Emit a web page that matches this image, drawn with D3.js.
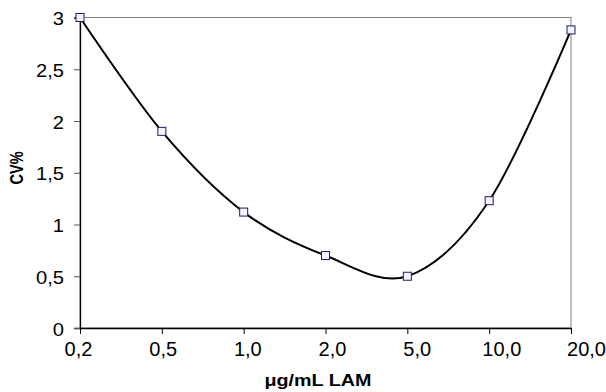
<!DOCTYPE html>
<html>
<head>
<meta charset="utf-8">
<script src="https://cdn.jsdelivr.net/npm/d3@7"></script>
<style>
  body { margin: 0; background: #fff; }
  svg { display: block; font-family: "Liberation Sans", Arial, sans-serif; }
</style>
</head>
<body>
<div id="chart"></div>
<script>
const categories = ['0,2', '0,5', '1,0', '2,0', '5,0', '10,0', '20,0'];
const cvValues = [3.0, 1.9, 1.12, 0.70, 0.50, 1.23, 2.88];
const yTicks = [0, 0.5, 1, 1.5, 2, 2.5, 3];
const xTitle = 'μg/mL LAM';
const yTitle = 'CV%';

const width = 606, height = 392;
const margin = { top: 17.5, right: 35, bottom: 64, left: 80 };

const svg = d3.select('#chart').append('svg')
  .attr('width', width)
  .attr('height', height);

const x = d3.scalePoint()
  .domain(categories)
  .range([margin.left, width - margin.right])
  .padding(0);

// tick labels sit slightly wider apart than the ticks in the original
const xLabel = d3.scalePoint()
  .domain(categories)
  .range([78, 586])
  .padding(0);

const y = d3.scaleLinear()
  .domain([0, 3])
  .range([height - margin.bottom, margin.top]);

// plot frame (grey top / right)
svg.append('rect')
  .attr('x', margin.left)
  .attr('y', margin.top)
  .attr('width', width - margin.right - margin.left)
  .attr('height', height - margin.bottom - margin.top)
  .attr('fill', 'none')
  .attr('stroke', '#808080')
  .attr('stroke-width', 1);

// y axis
const stretch = 1.15;
const yAxis = svg.append('g')
  .attr('transform', 'translate(' + margin.left + ',0)')
  .call(d3.axisLeft(y).tickValues(yTicks).tickSize(6).tickPadding(10)
    .tickFormat(function (d) { return String(d).replace('.', ','); }));
yAxis.select('.domain').attr('stroke', '#000').attr('stroke-width', 1.3);
yAxis.selectAll('.tick line').attr('stroke', '#555');
yAxis.selectAll('.tick text')
  .attr('font-size', 17.5)
  .attr('fill', '#000')
  .attr('x', -16 / stretch)
  .attr('dy', '0.4em')
  .attr('transform', 'scale(' + stretch + ',1)');

// x axis
const xAxis = svg.append('g')
  .attr('transform', 'translate(0,' + (height - margin.bottom) + ')')
  .call(d3.axisBottom(x).tickSizeInner(6).tickSizeOuter(0).tickPadding(6));
xAxis.select('.domain').attr('stroke', '#000').attr('stroke-width', 1.3);
xAxis.selectAll('.tick line').attr('stroke', '#000');
xAxis.selectAll('.tick text')
  .attr('font-size', 20)
  .attr('fill', '#000')
  .attr('x', function (d) { return xLabel(d) - x(d); })
  .attr('dy', '0.78em');

// smoothed line
const line = d3.line()
  .x(function (d, i) { return x(categories[i]); })
  .y(function (d) { return y(d); })
  .curve(d3.curveCatmullRom.alpha(0));

svg.append('path')
  .datum(cvValues)
  .attr('d', line)
  .attr('fill', 'none')
  .attr('stroke', '#000')
  .attr('stroke-width', 2);

// square markers
const s = 8;
svg.selectAll('.marker')
  .data(cvValues)
  .enter().append('rect')
  .attr('class', 'marker')
  .attr('x', function (d, i) { return x(categories[i]) - s / 2; })
  .attr('y', function (d) { return y(d) - s / 2; })
  .attr('width', s)
  .attr('height', s)
  .attr('fill', '#f4f4ff')
  .attr('stroke', '#1c1c6c')
  .attr('stroke-width', 1);

// axis titles
svg.append('text')
  .attr('x', 318)
  .attr('y', 386)
  .attr('text-anchor', 'middle')
  .attr('font-size', 16.5)
  .attr('font-weight', 'bold')
  .attr('textLength', 107)
  .attr('lengthAdjust', 'spacingAndGlyphs')
  .text(xTitle);

svg.append('text')
  .attr('transform', 'translate(23,168) rotate(-90) scale(1,1.25)')
  .attr('text-anchor', 'middle')
  .attr('font-size', 14.5)
  .attr('font-weight', 'bold')
  .text(yTitle);
</script>
</body>
</html>
